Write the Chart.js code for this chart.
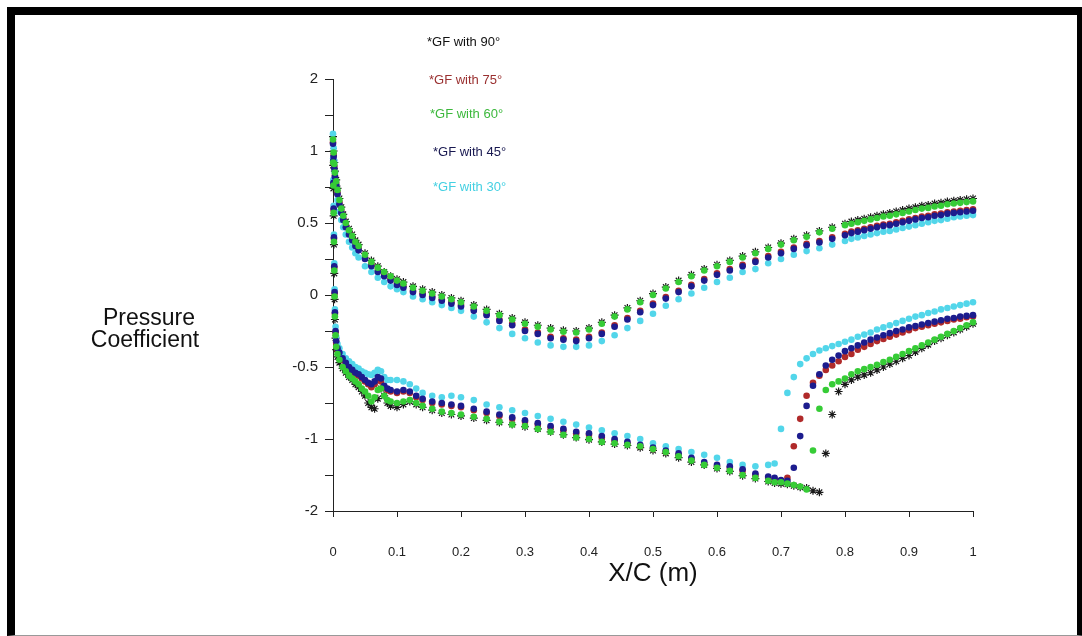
<!DOCTYPE html>
<html lang="en">

<head>
    <meta charset="UTF-8">
    <title>Pressure Coefficient vs X/C</title>
    <style>
        html, body {
            margin: 0;
            padding: 0;
            background: #fff;
            overflow: hidden;
        }
        #frame {
            position: absolute;
            left: 7px;
            top: 7px;
            width: 1078px;
            height: 629px;
            box-sizing: border-box;
            border: 8px solid #000;
            border-bottom: 1px solid #999;
            pointer-events: none;
        }
        #cpChart {
            position: absolute;
            left: 0;
            top: 0;
        }
    </style>
</head>

<body>
    <canvas id="cpChart" width="1082" height="636"></canvas>
    <div id="frame"></div>
    <script src="https://cdn.jsdelivr.net/npm/chart.js@4/dist/chart.umd.min.js"></script>
    <script>
        // series names (legend order)
        const seriesNames = ["*GF with 90°", "*GF with 75°", "*GF with 60°", "*GF with 45°", "*GF with 30°"];

        // tick labels
        const xTickLabels = ["0", "0.1", "0.2", "0.3", "0.4", "0.5", "0.6", "0.7", "0.8", "0.9", "1"];
        const yTickValues = [-1.5, -1, -0.5, 0, 0.5, 1, 1.5];
        const yTickLabels = ["-2", "-1", "-0.5", "0", "0.5", "1", "2"];

        // upper branch (x/c) shared by all runs
        const xUpper = [0, 0.001, 0.002, 0.003, 0.005, 0.007, 0.01, 0.013, 0.016, 0.02,
            0.025, 0.03, 0.035, 0.04, 0.05, 0.06, 0.07, 0.08, 0.09, 0.1,
            0.11, 0.125, 0.14, 0.155, 0.17, 0.185, 0.2, 0.22, 0.24, 0.26,
            0.28, 0.3, 0.32, 0.34, 0.36, 0.38, 0.4, 0.42, 0.44, 0.46,
            0.48, 0.5, 0.52, 0.54, 0.56, 0.58, 0.6, 0.62, 0.64, 0.66,
            0.68, 0.7, 0.72, 0.74, 0.76, 0.78, 0.8, 0.81, 0.82, 0.83,
            0.84, 0.85, 0.86, 0.87, 0.88, 0.89, 0.9, 0.91, 0.92, 0.93,
            0.94, 0.95, 0.96, 0.97, 0.98, 0.99, 1];

        const up90 = [1.10, 1.00, 0.92, 0.86, 0.80, 0.74, 0.67, 0.61, 0.56, 0.51,
            0.46, 0.42, 0.38, 0.35, 0.29, 0.24, 0.20, 0.16, 0.13, 0.11,
            0.09, 0.06, 0.04, 0.02, 0.00, -0.02, -0.04, -0.07, -0.10, -0.13,
            -0.16, -0.19, -0.21, -0.23, -0.245, -0.25, -0.23, -0.19, -0.14, -0.09,
            -0.04, 0.01, 0.055, 0.10, 0.14, 0.18, 0.21, 0.24, 0.27, 0.30,
            0.33, 0.36, 0.39, 0.415, 0.445, 0.47, 0.495, 0.51, 0.52, 0.53,
            0.54, 0.55, 0.56, 0.57, 0.58, 0.59, 0.60, 0.61, 0.62, 0.625,
            0.635, 0.64, 0.65, 0.655, 0.66, 0.665, 0.67];
        const up75 = [1.06, 0.97, 0.89, 0.83, 0.77, 0.71, 0.64, 0.58, 0.53, 0.48,
            0.43, 0.39, 0.35, 0.32, 0.26, 0.21, 0.17, 0.14, 0.11, 0.08,
            0.06, 0.03, 0.01, -0.01, -0.03, -0.05, -0.07, -0.10, -0.13, -0.17,
            -0.20, -0.24, -0.26, -0.29, -0.30, -0.31, -0.29, -0.26, -0.21, -0.16,
            -0.11, -0.06, -0.015, 0.03, 0.07, 0.11, 0.15, 0.18, 0.21, 0.24,
            0.27, 0.30, 0.33, 0.355, 0.375, 0.40, 0.425, 0.44, 0.45, 0.46,
            0.47, 0.48, 0.49, 0.495, 0.505, 0.515, 0.525, 0.535, 0.545, 0.55,
            0.56, 0.565, 0.575, 0.58, 0.585, 0.59, 0.595];
        const up60 = [1.08, 0.99, 0.91, 0.85, 0.79, 0.73, 0.66, 0.60, 0.55, 0.50,
            0.45, 0.41, 0.37, 0.34, 0.28, 0.23, 0.19, 0.16, 0.13, 0.10,
            0.08, 0.05, 0.03, 0.01, -0.01, -0.03, -0.05, -0.08, -0.11, -0.14,
            -0.17, -0.20, -0.22, -0.24, -0.255, -0.26, -0.24, -0.20, -0.15, -0.10,
            -0.05, 0.00, 0.045, 0.09, 0.13, 0.17, 0.20, 0.23, 0.26, 0.29,
            0.32, 0.35, 0.38, 0.405, 0.435, 0.46, 0.485, 0.495, 0.505, 0.515,
            0.525, 0.535, 0.545, 0.55, 0.56, 0.57, 0.58, 0.59, 0.60, 0.605,
            0.615, 0.62, 0.63, 0.635, 0.64, 0.645, 0.65];
        const up45 = [1.05, 0.96, 0.88, 0.82, 0.76, 0.70, 0.63, 0.57, 0.52, 0.47,
            0.42, 0.38, 0.34, 0.31, 0.25, 0.20, 0.16, 0.13, 0.10, 0.07,
            0.05, 0.02, 0.00, -0.02, -0.04, -0.06, -0.08, -0.11, -0.14, -0.18,
            -0.21, -0.25, -0.27, -0.30, -0.31, -0.32, -0.30, -0.27, -0.22, -0.17,
            -0.12, -0.07, -0.025, 0.02, 0.06, 0.10, 0.14, 0.17, 0.20, 0.23,
            0.26, 0.29, 0.32, 0.345, 0.365, 0.39, 0.415, 0.43, 0.44, 0.45,
            0.46, 0.47, 0.48, 0.485, 0.495, 0.505, 0.515, 0.525, 0.535, 0.54,
            0.55, 0.555, 0.565, 0.57, 0.575, 0.58, 0.585];
        const up30 = [1.12, 1.02, 0.93, 0.85, 0.76, 0.66, 0.58, 0.52, 0.47, 0.42,
            0.37, 0.33, 0.29, 0.26, 0.20, 0.16, 0.12, 0.09, 0.06, 0.04,
            0.02, -0.01, -0.03, -0.05, -0.07, -0.09, -0.11, -0.15, -0.19, -0.23,
            -0.27, -0.30, -0.33, -0.35, -0.36, -0.36, -0.35, -0.32, -0.28, -0.23,
            -0.18, -0.13, -0.075, -0.03, 0.01, 0.05, 0.09, 0.12, 0.16, 0.18,
            0.22, 0.25, 0.28, 0.305, 0.325, 0.35, 0.375, 0.39, 0.40, 0.41,
            0.42, 0.43, 0.44, 0.445, 0.455, 0.465, 0.475, 0.485, 0.495, 0.505,
            0.515, 0.52, 0.53, 0.54, 0.545, 0.55, 0.555];

        // lower branch (x/c) shared by all runs
        const xLower = [0.0003, 0.0006, 0.001, 0.0015, 0.002, 0.0025, 0.003, 0.004, 0.005, 0.007,
            0.01, 0.015, 0.02, 0.025, 0.03, 0.035, 0.04, 0.045, 0.05, 0.055,
            0.06, 0.065, 0.07, 0.075, 0.08, 0.085, 0.09, 0.1, 0.11, 0.12,
            0.13, 0.14, 0.155, 0.17, 0.185, 0.2, 0.22, 0.24, 0.26, 0.28,
            0.3, 0.32, 0.34, 0.36, 0.38, 0.4, 0.42, 0.44, 0.46, 0.48,
            0.5, 0.52, 0.54, 0.56, 0.58, 0.6, 0.62, 0.64, 0.66, 0.68,
            0.69, 0.7, 0.71, 0.72, 0.73, 0.74, 0.75, 0.76, 0.77, 0.78,
            0.79, 0.8, 0.81, 0.82, 0.83, 0.84, 0.85, 0.86, 0.87, 0.88,
            0.89, 0.9, 0.91, 0.92, 0.93, 0.94, 0.95, 0.96, 0.97, 0.98,
            0.99, 1];

        const low90 = [0.90, 0.74, 0.55, 0.35, 0.15, -0.03, -0.17, -0.30, -0.38, -0.43,
            -0.47, -0.51, -0.54, -0.57, -0.59, -0.62, -0.64, -0.67, -0.70, -0.75,
            -0.78, -0.79, -0.72, -0.65, -0.70, -0.75, -0.77, -0.78, -0.76, -0.74,
            -0.76, -0.78, -0.80, -0.82, -0.83, -0.84, -0.855, -0.87, -0.885, -0.90,
            -0.915, -0.93, -0.95, -0.97, -0.99, -1.005, -1.02, -1.035, -1.045, -1.06,
            -1.08, -1.10, -1.13, -1.16, -1.18, -1.205, -1.225, -1.255, -1.275, -1.295,
            -1.305, -1.31, -1.315, -1.325, -1.335, -1.34, -1.36, -1.37, -1.10, -0.83,
            -0.67, -0.62, -0.59, -0.57, -0.555, -0.54, -0.52, -0.50, -0.48, -0.46,
            -0.44, -0.42, -0.395, -0.37, -0.345, -0.32, -0.30, -0.28, -0.26, -0.24,
            -0.22, -0.20];
        const low75 = [0.92, 0.77, 0.59, 0.39, 0.19, 0.01, -0.13, -0.26, -0.33, -0.38,
            -0.41, -0.45, -0.48, -0.51, -0.53, -0.55, -0.56, -0.58, -0.60, -0.62,
            -0.64, -0.62, -0.59, -0.60, -0.64, -0.66, -0.67, -0.68, -0.67, -0.68,
            -0.71, -0.73, -0.75, -0.76, -0.77, -0.78, -0.80, -0.82, -0.84, -0.86,
            -0.88, -0.90, -0.92, -0.94, -0.96, -0.97, -0.99, -1.01, -1.03, -1.05,
            -1.07, -1.09, -1.11, -1.14, -1.17, -1.19, -1.20, -1.22, -1.25, -1.27,
            -1.28, -1.29, -1.27, -1.05, -0.86, -0.70, -0.61, -0.56, -0.52, -0.49,
            -0.46, -0.43, -0.41, -0.38, -0.36, -0.34, -0.32, -0.305, -0.29, -0.275,
            -0.26, -0.245, -0.23, -0.22, -0.21, -0.20, -0.19, -0.18, -0.17, -0.165,
            -0.155, -0.15];
        const low60 = [0.92, 0.76, 0.57, 0.37, 0.17, -0.01, -0.15, -0.28, -0.36, -0.41,
            -0.45, -0.50, -0.53, -0.56, -0.58, -0.60, -0.62, -0.65, -0.67, -0.70,
            -0.74, -0.71, -0.66, -0.65, -0.70, -0.73, -0.74, -0.75, -0.74, -0.73,
            -0.75, -0.77, -0.79, -0.81, -0.82, -0.83, -0.845, -0.86, -0.88, -0.90,
            -0.91, -0.93, -0.95, -0.97, -0.99, -1.00, -1.02, -1.03, -1.04, -1.05,
            -1.07, -1.09, -1.12, -1.15, -1.18, -1.20, -1.22, -1.25, -1.27, -1.29,
            -1.30, -1.30, -1.31, -1.32, -1.33, -1.35, -1.08, -0.79, -0.66, -0.62,
            -0.60, -0.58, -0.55, -0.53, -0.515, -0.50, -0.485, -0.465, -0.45, -0.43,
            -0.41, -0.39, -0.37, -0.35, -0.33, -0.31, -0.29, -0.27, -0.25, -0.23,
            -0.21, -0.19];
        const low45 = [0.93, 0.78, 0.60, 0.40, 0.20, 0.02, -0.12, -0.25, -0.32, -0.37,
            -0.40, -0.44, -0.47, -0.50, -0.52, -0.54, -0.55, -0.57, -0.59, -0.61,
            -0.62, -0.60, -0.57, -0.58, -0.63, -0.65, -0.66, -0.67, -0.66, -0.67,
            -0.70, -0.72, -0.74, -0.75, -0.76, -0.77, -0.79, -0.81, -0.83, -0.85,
            -0.87, -0.89, -0.91, -0.93, -0.95, -0.96, -0.98, -1.00, -1.02, -1.04,
            -1.06, -1.08, -1.10, -1.13, -1.16, -1.18, -1.19, -1.21, -1.24, -1.26,
            -1.27, -1.285, -1.29, -1.20, -0.98, -0.77, -0.63, -0.55, -0.49, -0.45,
            -0.42, -0.39, -0.37, -0.35, -0.33, -0.31, -0.295, -0.28, -0.265, -0.25,
            -0.24, -0.225, -0.215, -0.205, -0.195, -0.185, -0.175, -0.165, -0.16, -0.15,
            -0.145, -0.14];
        const low30 = [0.95, 0.80, 0.62, 0.42, 0.22, 0.04, -0.10, -0.22, -0.29, -0.34,
            -0.37, -0.41, -0.44, -0.46, -0.48, -0.50, -0.51, -0.53, -0.54, -0.55,
            -0.555, -0.54, -0.52, -0.53, -0.57, -0.59, -0.59, -0.59, -0.60, -0.62,
            -0.65, -0.68, -0.70, -0.71, -0.70, -0.71, -0.73, -0.76, -0.78, -0.80,
            -0.82, -0.84, -0.86, -0.88, -0.90, -0.92, -0.94, -0.96, -0.98, -1.00,
            -1.03, -1.05, -1.07, -1.09, -1.11, -1.13, -1.16, -1.18, -1.19, -1.18,
            -1.17, -0.93, -0.68, -0.57, -0.48, -0.44, -0.41, -0.385, -0.37, -0.355,
            -0.34, -0.325, -0.31, -0.29, -0.275, -0.26, -0.24, -0.225, -0.21, -0.195,
            -0.18, -0.165, -0.15, -0.14, -0.125, -0.115, -0.10, -0.09, -0.08, -0.07,
            -0.06, -0.05];

        const FONT = "'Liberation Sans', Arial, Helvetica, sans-serif";

        const toPoints = (up, low) =>
            xUpper.map((x, i) => ({ x: x, y: up[i] }))
                .concat(xLower.map((x, i) => ({ x: x, y: low[i] })));

        const dot = (label, up, low, color, order) => ({
            label: label,
            data: toPoints(up, low),
            pointStyle: "circle",
            pointRadius: 3.3,
            pointBorderWidth: 0,
            backgroundColor: color,
            borderColor: color,
            order: order,
            clip: false
        });

        const datasets = [
            {
                label: seriesNames[0],
                data: toPoints(up90, low90),
                pointStyle: "star",
                pointRadius: 4,
                pointBorderWidth: 1.2,
                borderColor: "#1a1a1a",
                backgroundColor: "#1a1a1a",
                order: 5,
                clip: false
            },
            dot(seriesNames[1], up75, low75, "#b02a2a", 4),
            dot(seriesNames[2], up60, low60, "#36cc36", 1),
            dot(seriesNames[3], up45, low45, "#1c1c8e", 2),
            dot(seriesNames[4], up30, low30, "#52d6ea", 3)
        ];

        const legendColors = ["#111111", "#9a3030", "#3cb83c", "#181850", "#44d0e2"];

        // axis titles and in-plot legend
        const textPlugin = {
            id: "cpText",
            afterDraw(chart) {
                const ctx = chart.ctx;
                const area = chart.chartArea;
                ctx.save();
                ctx.fillStyle = "#111";
                ctx.textAlign = "center";
                ctx.textBaseline = "middle";
                ctx.font = "23px " + FONT;
                ctx.fillText("Pressure", 149, 319);
                ctx.fillText("Coefficient", 145, 341);
                ctx.font = "26px " + FONT;
                ctx.fillText("X/C (m)", (area.left + area.right) / 2, 574);

                const lx = [427, 429, 430, 433, 433];
                const ly = [42, 80, 114, 152, 187];
                ctx.font = "13px " + FONT;
                ctx.textAlign = "left";
                seriesNames.forEach((name, i) => {
                    ctx.fillStyle = legendColors[i];
                    ctx.fillText(name, lx[i], ly[i]);
                });
                ctx.restore();
            }
        };

        new Chart(document.getElementById("cpChart").getContext("2d"), {
            type: "scatter",
            data: { datasets: datasets },
            options: {
                responsive: false,
                animation: false,
                layout: { padding: { left: 0, right: 109, top: 79, bottom: 0 } },
                plugins: {
                    legend: { display: false },
                    tooltip: { enabled: false }
                },
                scales: {
                    x: {
                        type: "linear",
                        min: 0,
                        max: 1,
                        afterFit: s => { s.height = 125; },
                        ticks: {
                            stepSize: 0.1,
                            autoSkip: false,
                            maxRotation: 0,
                            padding: 28,
                            color: "#222",
                            font: { family: FONT, size: 13 },
                            callback: (v, i) => xTickLabels[i]
                        },
                        grid: { drawOnChartArea: false, drawTicks: true, tickLength: 6, color: "#222" },
                        border: { color: "#222", width: 1 }
                    },
                    y: {
                        type: "linear",
                        min: -1.5,
                        max: 1.5,
                        afterFit: s => { s.width = 333; },
                        ticks: {
                            stepSize: 0.25,
                            autoSkip: false,
                            padding: 7,
                            color: "#222",
                            font: { family: FONT, size: 15 },
                            callback: v => {
                                const k = yTickValues.indexOf(v);
                                return k >= 0 ? yTickLabels[k] : "";
                            }
                        },
                        grid: { drawOnChartArea: false, drawTicks: true, tickLength: 8, color: "#222" },
                        border: { color: "#222", width: 1 }
                    }
                }
            },
            plugins: [textPlugin]
        });
    </script>
</body>

</html>
